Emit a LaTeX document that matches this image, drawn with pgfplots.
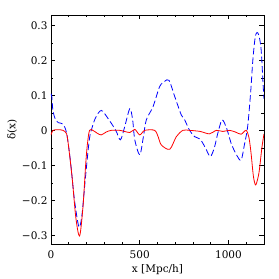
\documentclass[border=0pt]{standalone}
\usepackage{pgfplots}
\usepackage{fontspec}
\setmainfont{DejaVu Serif}
\pgfplotsset{compat=1.18}
\begin{document}
\begin{tikzpicture}
\begin{axis}[
  scale only axis,
  width=213pt, height=229pt,
  xmin=0, xmax=1200,
  ymin=-0.325, ymax=0.33,
  xtick={0,500,1000},
  xticklabels={0,500,1000},
  minor xtick={100,200,300,400,600,700,800,900,1100},
  ytick={-0.3,-0.2,-0.1,0,0.1,0.2,0.3},
  yticklabels={−0.3,−0.2,−0.1,0,0.1,0.2,0.3},
  minor ytick={-0.25,-0.15,-0.05,0.05,0.15,0.25},
  tick align=inside,
  major tick length=4.5pt,
  minor tick length=2.5pt,
  tick style={black, line width=0.5pt},
  axis line style={line width=0.6pt},
  tick label style={font=\fontsize{10.5}{12}\selectfont},
  xticklabel style={yshift=-3pt},
  label style={font=\fontsize{10.5}{12}\selectfont},
  xlabel={x [Mpc/h]},
  ylabel={δ(x)},
  xlabel style={yshift=1pt},
  ylabel style={yshift=-2pt},
]
\addplot[blue, line width=0.8pt, dash pattern=on 6.5pt off 3pt, smooth, tension=0.5] coordinates {
(0,0.105) (5,0.095) (10,0.06) (22,0.035) (41,0.022) (67,0.018) (88,-0.008)
(110,-0.09) (130,-0.19) (150,-0.26) (161,-0.277) (175,-0.24) (195,-0.13)
(215,-0.03) (227,0.0) (250,0.035) (283,0.057) (320,0.035) (365,0.0)
(391,-0.027) (415,0.01) (444,0.062) (460,0.03) (472,-0.027) (500,-0.07)
(520,-0.02) (537,0.03) (575,0.068) (612,0.125) (640,0.14) (665,0.143)
(697,0.097) (734,0.044) (753,0.03) (781,0.0) (809,-0.018) (840,-0.025)
(870,-0.05) (897,-0.075) (920,-0.05) (940,-0.008) (964,0.030) (990,0.005)
(1015,-0.037) (1045,-0.07) (1071,-0.085) (1090,-0.04) (1108,0.011)
(1125,0.11) (1137,0.2) (1150,0.265) (1161,0.28) (1172,0.27) (1184,0.23)
(1195,0.13) (1200,0.09)
};
\addplot[red, line width=0.8pt, smooth, tension=0.5] coordinates {
(0,-0.013) (11,0.0) (40,0.002) (67,0.0) (88,-0.01) (100,-0.05) (120,-0.14)
(140,-0.25) (161,-0.302) (180,-0.22) (195,-0.1) (205,-0.04) (217,0.0)
(236,0.0) (260,-0.008) (283,-0.013) (310,-0.005) (339,0.0) (388,0.0)
(444,-0.006) (472,0.003) (500,-0.013) (528,0.0) (584,0.0) (605,-0.02)
(622,-0.042) (669,-0.054) (706,-0.018) (743,0.0) (781,0.0) (840,-0.003)
(893,-0.01) (931,0.0) (968,-0.003) (1006,0.0) (1040,-0.005) (1071,-0.011)
(1099,0.0) (1115,-0.02) (1127,-0.065) (1140,-0.13) (1152,-0.156)
(1164,-0.14) (1174,-0.113) (1188,-0.05) (1200,-0.01)
};
\end{axis}
\path ([shift={(-51pt,-35pt)}]current axis.south west) rectangle ([shift={(15pt,15pt)}]current axis.north east);
\end{tikzpicture}
\end{document}
